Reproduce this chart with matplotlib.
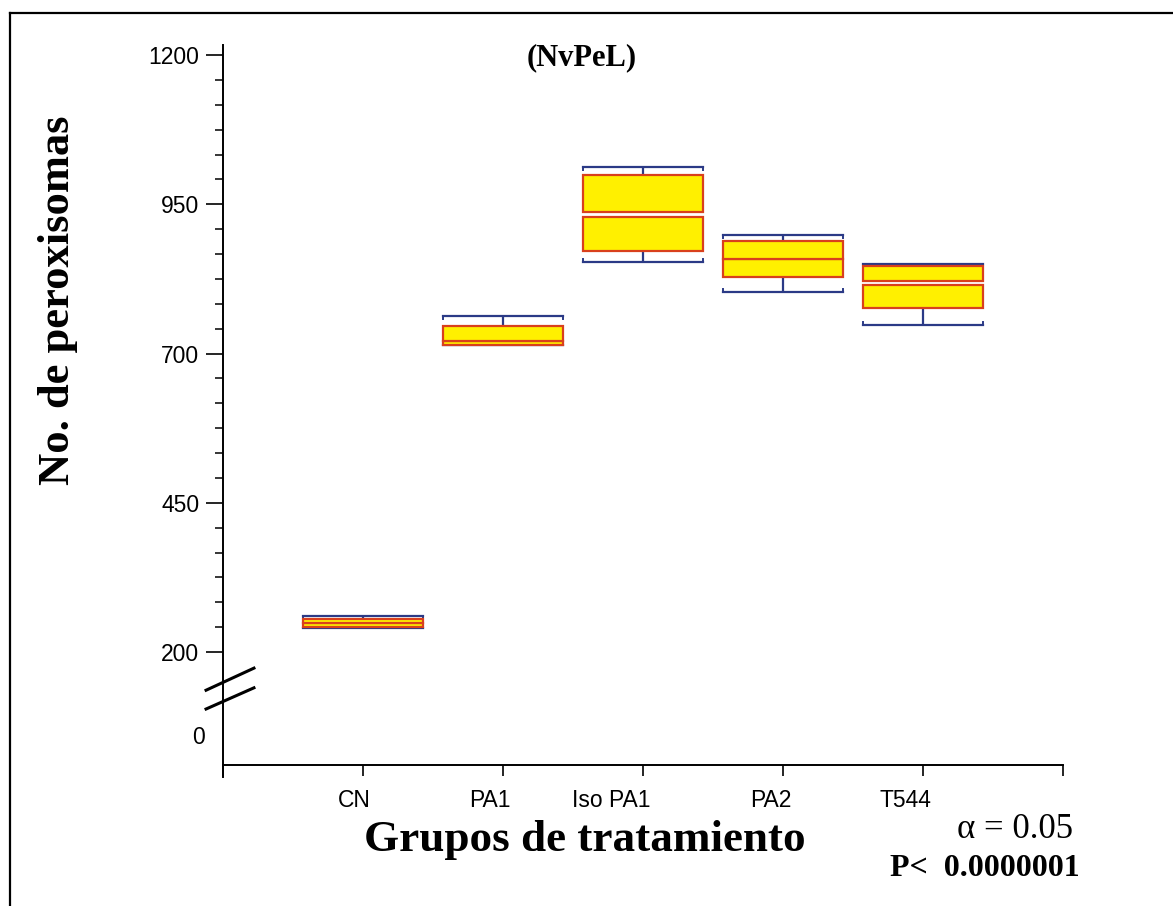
import matplotlib.pyplot as plt
from matplotlib.lines import Line2D
from matplotlib.transforms import ScaledTranslation

groups = ["CN", "PA1", "Iso PA1", "PA2", "T544"]
whisk_lo = [240, 714, 854, 804, 748]
q1 = [242, 714, 872, 828, 777]
med_lo = [249, 721, 928, 858, 815]
med_hi = [249, 721, 938, 858, 822]
q3 = [256, 746, 999, 889, 847]
whisk_hi = [261, 763, 1012, 898, 850]

ytick_vals = [200, 450, 700, 950, 1200]
zero_pos = 56  # where the "0" label sits below the axis break

box_yellow = "#fff000"
box_edge = "#d9401c"
whisk_col = "#2b3a86"

fig = plt.figure(figsize=(11.73, 9.06), dpi=100)
ax = fig.add_axes([223 / 1173, 1 - 777 / 906, 840 / 1173, 732 / 906])

x = list(range(1, len(groups) + 1))
bw = 0.857

# boxes drawn as two halves split at the median
ax.bar(x, [m - a for m, a in zip(med_lo, q1)], bottom=q1, width=bw,
       color=box_yellow, edgecolor=box_edge, linewidth=1.6, zorder=3)
ax.bar(x, [b - m for b, m in zip(q3, med_hi)], bottom=med_hi, width=bw,
       color=box_yellow, edgecolor=box_edge, linewidth=1.6, zorder=3)

# whiskers
ax.vlines(x, q3, whisk_hi, color=whisk_col, lw=1.6, zorder=2)
ax.vlines(x, whisk_lo, q1, color=whisk_col, lw=1.6, zorder=2)
for xi, lo, hi in zip(x, whisk_lo, whisk_hi):
    ax.plot([xi - bw / 2, xi + bw / 2], [hi, hi], color=whisk_col, lw=1.6, zorder=2)
    ax.plot([xi - bw / 2, xi + bw / 2], [lo, lo], color=whisk_col, lw=1.6, zorder=2)
    for xe in (xi - bw / 2, xi + bw / 2):
        ax.plot([xe, xe], [hi, hi - 5], color=whisk_col, lw=1.4, zorder=2)
        ax.plot([xe, xe], [lo, lo + 5], color=whisk_col, lw=1.4, zorder=2)

ax.set_xlim(0, 6)
ax.set_ylim(-9.4, 1217)

for s in ["top", "right"]:
    ax.spines[s].set_visible(False)
ax.spines["left"].set_linewidth(1.4)
ax.spines["bottom"].set_linewidth(1.4)
ax.spines["bottom"].set_position(("data", 10.7))

ax.set_xticks(range(0, 7))
ax.set_xticklabels([""] + groups + [""], fontfamily="Liberation Sans", fontsize=16.5)
ax.tick_params(axis="x", direction="out", length=8, width=1.2, pad=9)
shift = ScaledTranslation(8 / 100, 0, fig.dpi_scale_trans)
for lab in ax.get_xticklabels():
    lab.set_horizontalalignment("right")
    lab.set_transform(lab.get_transform() + shift)

ax.set_yticks(ytick_vals)
ax.set_yticklabels([str(v) for v in ytick_vals], fontfamily="Liberation Sans", fontsize=16.5)
ax.tick_params(axis="y", which="major", direction="out", length=12, width=1.2, pad=5)
minor = [200 + k * 250 / 6 for k in range(1, 24) if k % 6 != 0]
ax.set_yticks(minor, minor=True)
ax.tick_params(axis="y", which="minor", direction="out", length=6, width=1.1)

ax.text(-0.022, zero_pos, "0", transform=ax.get_yaxis_transform(), ha="right",
        va="center", fontfamily="Liberation Sans", fontsize=16.5)

# axis break marks
for y0, y1 in [(136, 173), (104.5, 140)]:
    ax.plot([-0.121, 0.221], [y0, y1], color="black", lw=2.2, clip_on=False, zorder=5)

fig.text(582 / 1173, 1 - 58 / 906, "(NvPeL)", ha="center", va="center",
         fontfamily="Liberation Serif", fontweight="bold", fontsize=22)
fig.text(58 / 1173, 1 - 300 / 906, "No. de peroxisomas", rotation=90, ha="center",
         va="center", fontfamily="Liberation Serif", fontweight="bold", fontsize=32)
fig.text(585 / 1173, 1 - 840 / 906, "Grupos de tratamiento", ha="center", va="center",
         fontfamily="Liberation Serif", fontweight="bold", fontsize=32.5)
fig.text(1015 / 1173, 1 - 830 / 906, "α = 0.05", ha="center", va="center",
         fontfamily="Liberation Serif", fontsize=25)
fig.text(985 / 1173, 1 - 868 / 906, "P<  0.0000001", ha="center", va="center",
         fontfamily="Liberation Serif", fontweight="bold", fontsize=23)

# outer frame (left and top edges visible)
fig.add_artist(Line2D([10 / 1173, 10 / 1173], [0, 1 - 13 / 906], color="black",
                      lw=1.6, transform=fig.transFigure))
fig.add_artist(Line2D([10 / 1173, 1], [1 - 13 / 906, 1 - 13 / 906], color="black",
                      lw=1.6, transform=fig.transFigure))

fig.savefig("out.png", dpi=100)
